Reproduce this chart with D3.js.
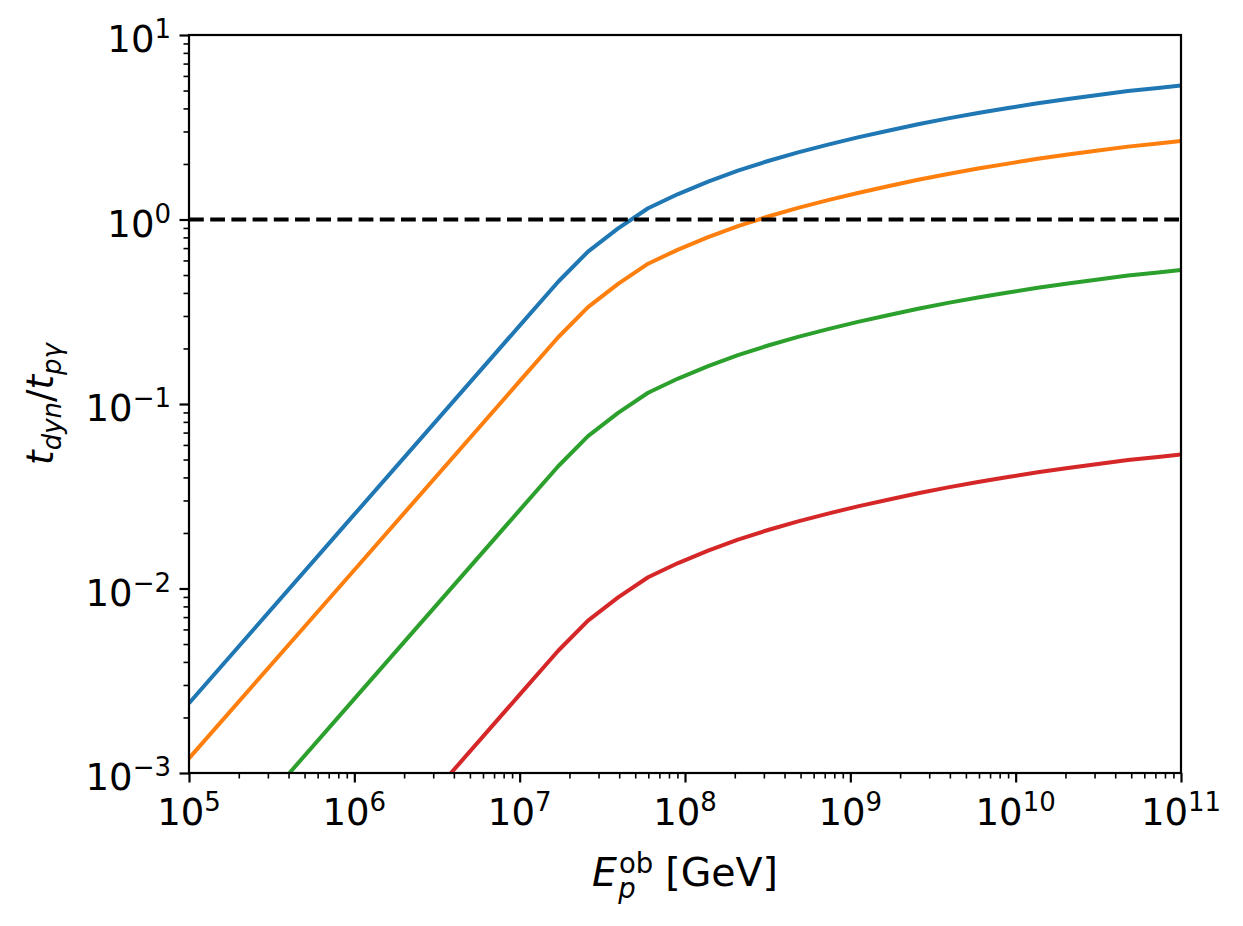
<!DOCTYPE html>
<html>
<head>
<meta charset="utf-8">
<script src="https://cdn.jsdelivr.net/npm/d3@7"></script>
<style>
  body { margin: 0; background: #fff; }
  svg text { font-family: "DejaVu Sans", sans-serif; fill: #000; }
</style>
</head>
<body>
<div id="chart"></div>
<script>
// proton energy in the observer frame [GeV]
var energy = [1e5, 1e6, 1e7, 1.71e7, 2.59e7, 3.94e7, 5.98e7, 9.08e7, 1.38e8, 2.09e8,
    3.18e8, 4.83e8, 7.33e8, 1.11e9, 1.69e9, 2.57e9, 3.90e9, 5.92e9, 8.99e9,
    1.36e10, 2.07e10, 3.15e10, 4.78e10, 7.26e10, 1e11];

// t_dyn / t_pgamma for the four cases
var seriesBlue = [0.00239, 0.0252, 0.266, 0.460, 0.670, 0.895, 1.151, 1.374, 1.603, 1.841,
    2.075, 2.312, 2.547, 2.786, 3.027, 3.281, 3.532, 3.776, 4.018,
    4.266, 4.498, 4.732, 4.966, 5.164, 5.330];
var seriesOrange = [0.00120, 0.0126, 0.133, 0.230, 0.335, 0.448, 0.576, 0.687, 0.802, 0.921,
    1.038, 1.156, 1.274, 1.393, 1.514, 1.641, 1.766, 1.888, 2.009,
    2.133, 2.249, 2.366, 2.483, 2.582, 2.665];
var seriesGreen = [0.000239, 0.00252, 0.0266, 0.0460, 0.0670, 0.0895, 0.1151, 0.1374, 0.1603, 0.1841,
    0.2075, 0.2312, 0.2547, 0.2786, 0.3027, 0.3281, 0.3532, 0.3776, 0.4018,
    0.4266, 0.4498, 0.4732, 0.4966, 0.5164, 0.5330];
var seriesRed = [0.0000239, 0.000252, 0.00266, 0.00460, 0.00670, 0.00895, 0.01151, 0.01374, 0.01603, 0.01841,
    0.02075, 0.02312, 0.02547, 0.02786, 0.03027, 0.03281, 0.03532, 0.03776, 0.04018,
    0.04266, 0.04498, 0.04732, 0.04966, 0.05164, 0.05330];

var unityLine = [1, 1];
var unityRange = [1e5, 1e11];

var xTickExp = [5, 6, 7, 8, 9, 10, 11];
var yTickExp = [-3, -2, -1, 0, 1];

var colors = ["#1f77b4", "#ff7f0e", "#2ca02c", "#d62728"];
var allSeries = [seriesBlue, seriesOrange, seriesGreen, seriesRed];

var margin = { top: 35, right: 62, bottom: 153, left: 189 };
var width = 1243 - margin.left - margin.right,
    height = 926 - margin.top - margin.bottom;

var svg = d3.select("#chart").append("svg")
    .attr("width", 1243)
    .attr("height", 926)
    .append("g")
    .attr("transform", "translate(" + margin.left + "," + margin.top + ")");

var x = d3.scaleLog().domain([1e5, 1e11]).range([0, width]);
var y = d3.scaleLog().domain([1e-3, 1e1]).range([height, 0]);

svg.append("clipPath").attr("id", "plotClip")
    .append("rect").attr("width", width).attr("height", height);

// minor ticks
var minorX = [], minorY = [];
xTickExp.slice(0, -1).forEach(function (e) {
    for (var k = 2; k < 10; k++) minorX.push(k * Math.pow(10, e));
});
yTickExp.slice(0, -1).forEach(function (e) {
    for (var k = 2; k < 10; k++) minorY.push(k * Math.pow(10, e));
});

var tickW = 2.2;

svg.append("g").attr("transform", "translate(0," + height + ")")
    .call(d3.axisBottom(x).tickValues(minorX).tickSize(5.5).tickFormat(""))
    .call(function (g) { g.select(".domain").remove(); g.selectAll("line").attr("stroke-width", 1.6); });
svg.append("g")
    .call(d3.axisLeft(y).tickValues(minorY).tickSize(5.5).tickFormat(""))
    .call(function (g) { g.select(".domain").remove(); g.selectAll("line").attr("stroke-width", 1.6); });

var xAxis = svg.append("g").attr("transform", "translate(0," + height + ")")
    .call(d3.axisBottom(x).tickValues(xTickExp.map(function (e) { return Math.pow(10, e); }))
        .tickSize(9.5).tickFormat(""));
xAxis.select(".domain").remove();
xAxis.selectAll("line").attr("stroke-width", tickW);

var yAxis = svg.append("g")
    .call(d3.axisLeft(y).tickValues(yTickExp.map(function (e) { return Math.pow(10, e); }))
        .tickSize(9.5).tickFormat(""));
yAxis.select(".domain").remove();
yAxis.selectAll("line").attr("stroke-width", tickW);

function expText(e) { return e < 0 ? "\u2212" + (-e) : String(e); }

var fontSize = 37, supSize = 26;
var labelSize = 39.5, labelSup = 27.5;

// x tick labels
xTickExp.forEach(function (e) {
    var t = svg.append("text")
        .attr("x", x(Math.pow(10, e)))
        .attr("y", height + 52)
        .attr("text-anchor", "middle")
        .style("font-size", fontSize + "px");
    t.append("tspan").text("10");
    t.append("tspan").attr("dy", -14).style("font-size", supSize + "px").text(expText(e));
});

// y tick labels
yTickExp.forEach(function (e) {
    var t = svg.append("text")
        .attr("x", -18)
        .attr("y", y(Math.pow(10, e)) + 17)
        .attr("text-anchor", "end")
        .style("font-size", fontSize + "px");
    t.append("tspan").text("10");
    t.append("tspan").attr("dy", -14).style("font-size", supSize + "px").text(expText(e));
});

// data lines
var line = d3.line()
    .x(function (d) { return x(d[0]); })
    .y(function (d) { return y(d[1]); });

var plot = svg.append("g").attr("clip-path", "url(#plotClip)");

allSeries.forEach(function (s, i) {
    plot.append("path")
        .datum(energy.map(function (e, j) { return [e, s[j]]; }))
        .attr("fill", "none")
        .attr("stroke", colors[i])
        .attr("stroke-width", 4)
        .attr("stroke-linejoin", "round")
        .attr("d", line);
});

plot.append("path")
    .datum(unityRange.map(function (e, j) { return [e, unityLine[j]]; }))
    .attr("fill", "none")
    .attr("stroke", "#000")
    .attr("stroke-width", 4)
    .attr("stroke-dasharray", "14.8,6.4")
    .attr("d", line);

// frame
svg.append("rect")
    .attr("width", width).attr("height", height)
    .attr("fill", "none").attr("stroke", "#000").attr("stroke-width", 2.2);

// axis labels
var xl = svg.append("text")
    .attr("x", width / 2)
    .attr("y", height + 113)
    .attr("text-anchor", "middle")
    .style("font-size", labelSize + "px");
xl.append("tspan").style("font-style", "italic").text("E");
xl.append("tspan").attr("dx", 2).attr("dy", -13).style("font-size", labelSup + "px").text("ob");
xl.append("tspan").attr("dx", -35).attr("dy", 25).style("font-size", labelSup + "px").style("font-style", "italic").text("p");
xl.append("tspan").attr("dx", 17).attr("dy", -12).text(" [GeV]");

var yl = svg.append("text")
    .attr("transform", "translate(" + (-136) + "," + (height / 2) + ") rotate(-90)")
    .attr("text-anchor", "middle")
    .style("font-size", fontSize + "px");
yl.append("tspan").style("font-style", "italic").text("t");
yl.append("tspan").attr("dy", 8).style("font-size", supSize + "px").style("font-style", "italic").text("dyn");
yl.append("tspan").attr("dy", -8).text("/");
yl.append("tspan").style("font-style", "italic").text("t");
yl.append("tspan").attr("dy", 8).style("font-size", supSize + "px").style("font-style", "italic").text("p\u03b3");
</script>
</body>
</html>
